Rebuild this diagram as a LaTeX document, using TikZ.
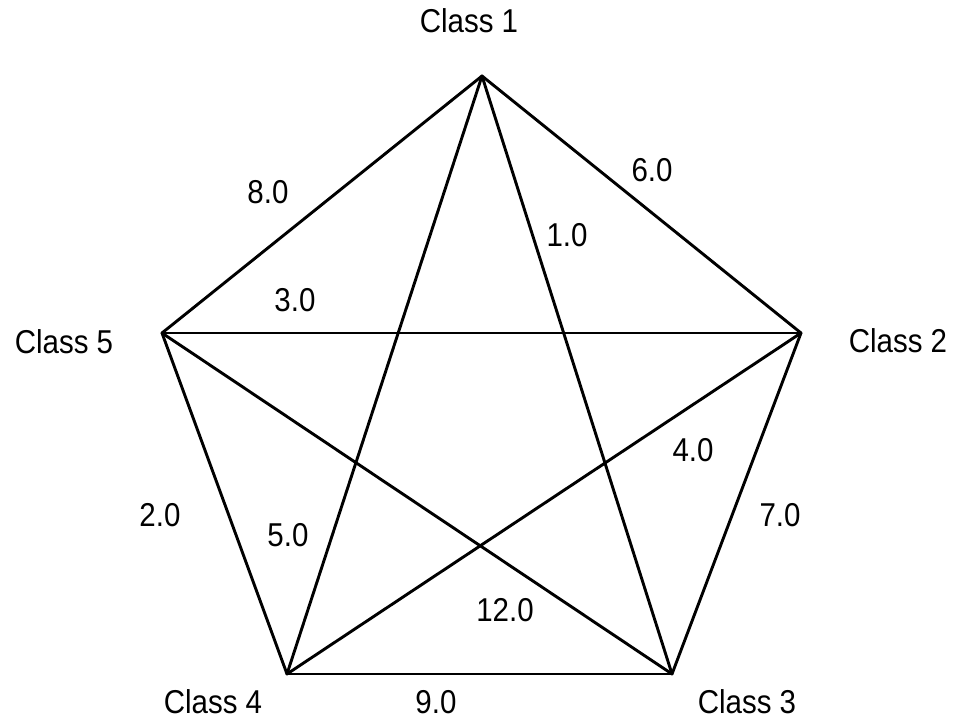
\documentclass[tikz,border=0pt]{standalone}
\usepackage{graphicx}
\usepackage{fontspec}
\setmainfont{Liberation Sans}
\usetikzlibrary{positioning, calc}
\newcommand{\tallbox}[1]{\scalebox{1}[1.12]{#1}}
\tikzset{
  edge/.style={draw=black, line width=2.9pt, line cap=round},
  cls/.style={font=\fontsize{29.5}{30}\selectfont, inner sep=0pt, anchor=center},
  wt/.style={font=\fontsize{29.5}{30}\selectfont, inner sep=0pt, anchor=center}
}
\begin{document}
\begin{tikzpicture}[x=1pt, y=-1pt]
  \useasboundingbox[fill=white] (0,0) rectangle (954,719);
  % pentagon corners
  \coordinate (c1) at (482,76);
  \coordinate (c2) at (801,333);
  \coordinate (c3) at (672,674);
  \coordinate (c4) at (287,674);
  \coordinate (c5) at (162,333);
  \foreach \a/\b in {c1/c2, c2/c3, c3/c4, c4/c5, c5/c1,
                     c1/c3, c1/c4, c2/c4, c2/c5, c3/c5}
    \draw[edge] (\a) -- (\b);
  % class names
  \node[cls] (l1) at (469,21) {\tallbox{Class 1}};
  \node[cls] (l2) at (898,341) {\tallbox{Class 2}};
  \node[cls] (l3) at (747,702) {\tallbox{Class 3}};
  \node[cls] (l4) at (213,702) {\tallbox{Class 4}};
  \node[cls] (l5) at (64,342) {\tallbox{Class 5}};
  % weights
  \node[wt] (w15) at (268,192) {\tallbox{8.0}};
  \node[wt] (w12) at (652,170) {\tallbox{6.0}};
  \node[wt] (w13) at (567,235) {\tallbox{1.0}};
  \node[wt] (w25) at (295,300) {\tallbox{3.0}};
  \node[wt] (w24) at (693,450) {\tallbox{4.0}};
  \node[wt] (w45) at (160,515) {\tallbox{2.0}};
  \node[wt] (w14) at (288,535) {\tallbox{5.0}};
  \node[wt] (w23) at (780,515) {\tallbox{7.0}};
  \node[wt] (w35) at (505,610) {\tallbox{12.0}};
  \node[wt] (w34) at (436,702) {\tallbox{9.0}};
\end{tikzpicture}
\end{document}
